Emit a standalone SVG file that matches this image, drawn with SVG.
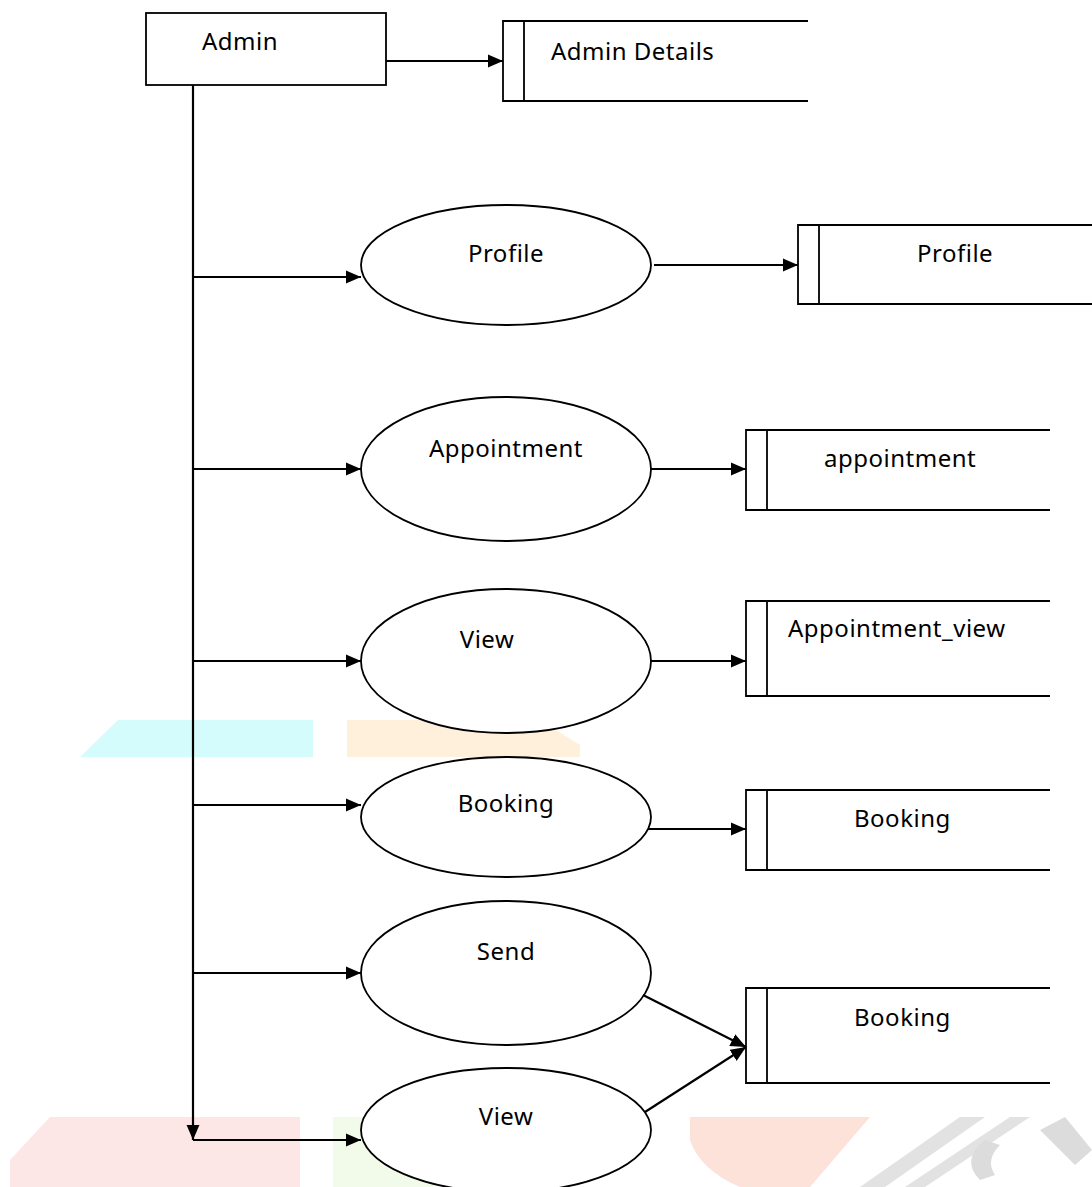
<svg xmlns="http://www.w3.org/2000/svg" width="1092" height="1187" viewBox="0 0 1092 1187">
<style>
.t{font-family:"Noto Sans","Liberation Sans",sans-serif;font-size:24px;letter-spacing:0.5px;fill:#000}
.box{fill:#fff;stroke:#000;stroke-width:1.8}
.ell{fill:#fff;stroke:#000;stroke-width:1.8}
.st{fill:none;stroke:#000;stroke-width:1.8}
.c{fill:none;stroke:#000;stroke-width:2.2}
</style>
<defs>
<marker id="ah" viewBox="0 0 14 12" refX="14" refY="6" markerWidth="7" markerHeight="6" markerUnits="strokeWidth" orient="auto">
<path d="M0,0 L14,6 L0,12 Z" fill="#000"/>
</marker>
</defs>
<rect width="1092" height="1187" fill="#fff"/>
<g id="watermark">
<polygon points="80,757 118,720 313,720 313,757" fill="#d4fcfc"/>
<polygon points="347,720 540,720 580,745 580,757 347,757" fill="#fff0dc"/>
<polygon points="10,1187 10,1160 50,1117 300,1117 300,1187" fill="#fde6e6"/>
<rect x="333" y="1117" width="100" height="70" fill="#f2fbea"/>
<path d="M690,1117 L870,1117 L810,1187 L740,1187 Q700,1170 690,1140 Z" fill="#fde2da"/>
<polygon points="860,1187 960,1117 985,1117 885,1187" fill="#e2e2e2"/>
<polygon points="905,1187 1010,1117 1030,1117 925,1187" fill="#e2e2e2"/>
<path d="M980,1180 Q960,1160 985,1140 L1000,1145 Q985,1160 995,1175 Z" fill="#dcdcdc"/>
<polygon points="1040,1130 1065,1117 1092,1150 1075,1165" fill="#dcdcdc"/>
</g>
<g id="admin">
<rect class="box" x="146" y="13" width="240" height="72"/>
<text class="t" x="202" y="50">Admin</text>
</g>
<g id="store-admin-details">
<path class="st" d="M808,21 H503 V101 H808 M524,21 V101"/>
<text class="t" x="551" y="60">Admin Details</text>
</g>
<g id="proc-profile">
<ellipse class="ell" cx="506" cy="265" rx="145" ry="60"/>
<text class="t" x="506" y="262" text-anchor="middle">Profile</text>
</g>
<g id="store-profile">
<path class="st" d="M1092,225 H798 V304 H1092 M819,225 V304"/>
<text class="t" x="917" y="262">Profile</text>
</g>
<g id="proc-appointment">
<ellipse class="ell" cx="506" cy="469" rx="145" ry="72"/>
<text class="t" x="506" y="457" text-anchor="middle">Appointment</text>
</g>
<g id="store-appointment">
<path class="st" d="M1050,430 H746 V510 H1050 M767,430 V510"/>
<text class="t" x="824" y="467">appointment</text>
</g>
<g id="proc-view">
<ellipse class="ell" cx="506" cy="661" rx="145" ry="72"/>
<text class="t" x="487" y="648" text-anchor="middle">View</text>
</g>
<g id="store-appointment-view">
<path class="st" d="M1050,601 H746 V696 H1050 M767,601 V696"/>
<text class="t" x="788" y="637">Appointment_view</text>
</g>
<g id="proc-booking">
<ellipse class="ell" cx="506" cy="817" rx="145" ry="60"/>
<text class="t" x="506" y="812" text-anchor="middle">Booking</text>
</g>
<g id="store-booking">
<path class="st" d="M1050,790 H746 V870 H1050 M767,790 V870"/>
<text class="t" x="854" y="827">Booking</text>
</g>
<g id="proc-send">
<ellipse class="ell" cx="506" cy="973" rx="145" ry="72"/>
<text class="t" x="506" y="960" text-anchor="middle">Send</text>
</g>
<g id="store-booking-2">
<path class="st" d="M1050,988 H746 V1083 H1050 M767,988 V1083"/>
<text class="t" x="854" y="1026">Booking</text>
</g>
<g id="proc-view-2">
<ellipse class="ell" cx="506" cy="1130" rx="145" ry="62"/>
<text class="t" x="506" y="1125" text-anchor="middle">View</text>
</g>
<g id="connectors">
<line class="c" x1="386" y1="61" x2="503" y2="61" marker-end="url(#ah)"/>
<line class="c" x1="193" y1="85" x2="193" y2="1140" marker-end="url(#ah)"/>
<line class="c" x1="193" y1="277" x2="361" y2="277" marker-end="url(#ah)"/>
<line class="c" x1="193" y1="469" x2="361" y2="469" marker-end="url(#ah)"/>
<line class="c" x1="193" y1="661" x2="361" y2="661" marker-end="url(#ah)"/>
<line class="c" x1="193" y1="805" x2="361" y2="805" marker-end="url(#ah)"/>
<line class="c" x1="193" y1="973" x2="361" y2="973" marker-end="url(#ah)"/>
<line class="c" x1="193" y1="1140" x2="361" y2="1140" marker-end="url(#ah)"/>
<line class="c" x1="654" y1="265" x2="798" y2="265" marker-end="url(#ah)"/>
<line class="c" x1="651" y1="469" x2="746" y2="469" marker-end="url(#ah)"/>
<line class="c" x1="651" y1="661" x2="746" y2="661" marker-end="url(#ah)"/>
<line class="c" x1="648" y1="829" x2="746" y2="829" marker-end="url(#ah)"/>
<line class="c" x1="643" y1="995" x2="746" y2="1047" marker-end="url(#ah)"/>
<line class="c" x1="645" y1="1112" x2="746" y2="1047" marker-end="url(#ah)"/>
</g>
</svg>
